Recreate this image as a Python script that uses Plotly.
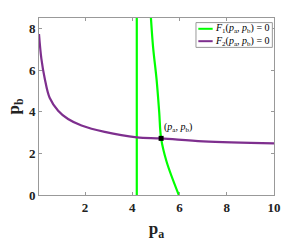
import plotly.graph_objects as go

# F2 curve (purple) points
f2_pa = [0.05, 0.15, 0.29, 0.50, 0.86, 1.28, 1.85, 2.83, 4.19, 5.22, 7.0, 10.0]
f2_pb = [7.73, 6.55, 5.61, 4.67, 4.05, 3.65, 3.34, 3.03, 2.77, 2.72, 2.58, 2.48]

# F1 branches (green)
f1a_pa = [4.19, 4.19]
f1a_pb = [0.0, 8.5]
f1b_pa = [4.78, 4.88, 5.03, 5.14, 5.22, 5.45, 5.97]
f1b_pb = [8.67, 7.10, 5.53, 3.97, 2.72, 1.61, 0.0]

eq_pa = [5.22]
eq_pb = [2.72]

x_ticks = [2, 4, 6, 8, 10]
y_ticks = [0, 2, 4, 6, 8]

legend_labels = [
    "<i>F</i><sub>1</sub>(<i>p</i><sub>a</sub>, <i>p</i><sub>b</sub>) = 0",
    "<i>F</i><sub>2</sub>(<i>p</i><sub>a</sub>, <i>p</i><sub>b</sub>) = 0",
]

green = "#00ff00"
purple = "#7e2f8e"
serif = "Liberation Serif"

fig = go.Figure()
fig.add_trace(go.Scatter(x=f1a_pa, y=f1a_pb, mode="lines", line=dict(color=green, width=2.2),
                         name=legend_labels[0], showlegend=False))
fig.add_trace(go.Scatter(x=f1b_pa, y=f1b_pb, mode="lines", line=dict(color=green, width=2.2, shape="spline"),
                         showlegend=False))
fig.add_trace(go.Scatter(x=f2_pa, y=f2_pb, mode="lines", line=dict(color=purple, width=2.2, shape="spline"),
                         name=legend_labels[1], showlegend=False))
fig.add_trace(go.Scatter(x=eq_pa, y=eq_pb, mode="markers", marker=dict(color="black", size=5, symbol="square"),
                         showlegend=False))
fig.add_annotation(x=eq_pa[0], y=eq_pb[0], text="(<i>p</i><sub>a</sub>, <i>p</i><sub>b</sub>)",
                   showarrow=False, xanchor="left", yanchor="bottom", xshift=1, yshift=2,
                   font=dict(family=serif, size=10, color="black"))

# compact legend box (drawn in plot-area fractions)
fig.add_shape(type="rect", xref="paper", yref="paper", x0=0.668, x1=0.993, y0=0.834, y1=0.974,
              line=dict(color="#999999", width=1), fillcolor="white", layer="above")
for i, (col, lab) in enumerate(zip([green, purple], legend_labels)):
    yy = 0.939 - i * 0.07
    fig.add_shape(type="line", xref="paper", yref="paper", x0=0.678, x1=0.739, y0=yy, y1=yy,
                  line=dict(color=col, width=2), layer="above")
    fig.add_annotation(xref="paper", yref="paper", x=0.742, y=yy, text=lab, showarrow=False,
                       xanchor="left", yanchor="middle",
                       font=dict(family=serif, size=10, color="black"))

axis_common = dict(showgrid=False, zeroline=False, showline=True, mirror="ticks", linecolor="#999999",
                   linewidth=1, ticks="inside", ticklen=3, tickcolor="#999999",
                   tickfont=dict(family=serif, size=13, color="#222222", weight="bold"))
fig.update_xaxes(range=[0.05, 10], tickvals=x_ticks,
                 title=dict(text="p<sub>a</sub>", font=dict(family=serif, size=17, color="#222222", weight="bold"), standoff=8),
                 **axis_common)
fig.update_yaxes(range=[0, 8.5], tickvals=y_ticks,
                 title=dict(text="p<sub>b</sub>", font=dict(family=serif, size=17, color="#222222", weight="bold"), standoff=4),
                 **axis_common)

fig.update_layout(
    width=304, height=246,
    margin=dict(l=39, r=30, t=18, b=47),
    plot_bgcolor="white", paper_bgcolor="white",
    showlegend=False,
)
fig.write_html("out.html", config={"displayModeBar": False},
               post_script="document.body.style.margin='0';document.body.style.padding='0';")
